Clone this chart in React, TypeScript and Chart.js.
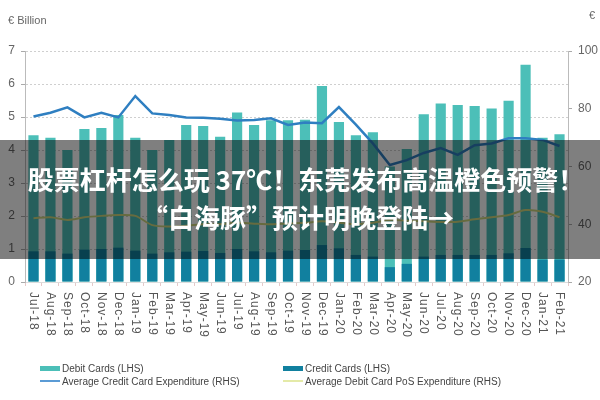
import React, { useEffect, useRef } from "react";
import { Chart, registerables } from "chart.js";

Chart.register(...registerables);

const months = [
  "Jul-18", "Aug-18", "Sep-18", "Oct-18", "Nov-18", "Dec-18",
  "Jan-19", "Feb-19", "Mar-19", "Apr-19", "May-19", "Jun-19",
  "Jul-19", "Aug-19", "Sep-19", "Oct-19", "Nov-19", "Dec-19",
  "Jan-20", "Feb-20", "Mar-20", "Apr-20", "May-20", "Jun-20",
  "Jul-20", "Aug-20", "Sep-20", "Oct-20", "Nov-20", "Dec-20",
  "Jan-21", "Feb-21",
];

// € billion (LHS)
const debitCards = [
  4.45, 4.37, 4.0, 4.64, 4.67, 5.06,
  4.37, 4.0, 4.3, 4.76, 4.73, 4.4,
  5.14, 4.76, 4.9, 4.9, 4.92, 5.94,
  4.85, 4.45, 4.54, 3.5, 4.03, 5.08,
  5.41, 5.36, 5.33, 5.26, 5.49, 6.58,
  4.37, 4.48,
];
const creditCards = [
  0.93, 0.93, 0.86, 0.98, 1.0, 1.04,
  0.95, 0.86, 0.9, 0.92, 0.94, 0.88,
  1.0, 0.93, 0.9, 0.95, 0.97, 1.12,
  1.02, 0.82, 0.77, 0.45, 0.55, 0.77,
  0.82, 0.82, 0.82, 0.82, 0.87, 1.03,
  0.68, 0.68,
];

// € (RHS)
const avgCreditExp = [
  77.3, 78.6, 80.5, 77.0, 78.6, 77.0,
  84.4, 78.4, 77.8, 77.0, 76.9, 76.5,
  75.9, 76.1, 76.7, 74.4, 75.2, 75.0,
  80.6, 74.5, 68.0, 60.5, 62.2, 64.7,
  66.4, 64.0, 67.4, 68.0, 69.8, 69.8,
  69.2, 67.1,
];
const avgDebitPosExp = [
  42.1, 42.4, 41.5, 42.4, 42.9, 43.2,
  42.9, 39.7, 39.2, 39.5, 40.0, 40.0,
  40.5, 40.2, 40.0, 40.3, 40.5, 41.0,
  40.5, 40.0, 40.5, 41.5, 41.2, 41.0,
  40.8, 40.9, 41.7, 42.4, 43.2, 44.9,
  44.3, 42.4,
];

const leftTicksMax = 7;
const rightTicks = { min: 20, max: 100, step: 20 };

const legendItems = [
  { label: "Debit Cards (LHS)", color: "#4cbfb8", kind: "box" },
  { label: "Credit Cards (LHS)", color: "#11809f", kind: "box" },
  { label: "Average Credit Card Expenditure (RHS)", color: "#5b9bd5", kind: "line" },
  { label: "Average Debit Card PoS Expenditure (RHS)", color: "#e4eaa8", kind: "line" },
];

const FONT = "'Liberation Sans', Arial, sans-serif";

const xLabelPlugin = {
  id: "xLabelsRotated",
  afterDraw(chart: any) {
    const { ctx } = chart;
    const x = chart.scales.x;
    ctx.save();
    ctx.font = "12px 'Liberation Sans', Arial, sans-serif";
    ctx.fillStyle = "#555";
    try { (ctx as any).letterSpacing = "1px"; } catch (e) {}
    ctx.textAlign = "left";
    ctx.textBaseline = "middle";
    months.forEach((m, i) => {
      const px = x.getPixelForValue(i);
      ctx.save();
      ctx.translate(px, x.top + 10);
      ctx.rotate(Math.PI / 2);
      ctx.fillText(m, 0, 0);
      ctx.restore();
    });
    ctx.restore();
  },
};

export default function App() {
  const ref = useRef<HTMLCanvasElement>(null);

  useEffect(() => {
    if (!ref.current) return;
    const chart = new Chart(ref.current, {
      type: "bar",
      data: {
        labels: months,
        datasets: [
          {
            type: "line",
            label: "Average Credit Card Expenditure (RHS)",
            data: avgCreditExp,
            yAxisID: "y1",
            borderColor: "#2f7fc1",
            borderWidth: 2.5,
            pointRadius: 0,
            tension: 0,
            order: 1,
          } as any,
          {
            type: "line",
            label: "Average Debit Card PoS Expenditure (RHS)",
            data: avgDebitPosExp,
            yAxisID: "y1",
            borderColor: "#cfd77e",
            borderWidth: 2,
            pointRadius: 0,
            tension: 0.3,
            order: 2,
          } as any,
          {
            type: "bar",
            label: "Credit Cards (LHS)",
            data: creditCards,
            yAxisID: "y",
            backgroundColor: "#11809f",
            grouped: false,
            barPercentage: 0.6,
            categoryPercentage: 1,
            order: 3,
          } as any,
          {
            type: "bar",
            label: "Debit Cards (LHS)",
            data: debitCards,
            yAxisID: "y",
            backgroundColor: "#4cbfb8",
            grouped: false,
            barPercentage: 0.6,
            categoryPercentage: 1,
            order: 4,
          } as any,
        ],
      },
      options: {
        responsive: false,
        animation: false,
        devicePixelRatio: 1,
        layout: { padding: { top: 51, left: 0, right: 0, bottom: 0 } },
        plugins: {
          legend: { display: false },
          tooltip: { enabled: false },
        },
        scales: {
          x: {
            offset: true,
            ticks: { display: false },
            grid: {
              display: true,
              drawOnChartArea: false,
              drawTicks: true,
              tickLength: 4,
              color: "#e6c9c9",
              offset: true,
            },
            border: { display: true, color: "#dddddd" },
            afterFit: (s: any) => { s.height = 118; },
          },
          y: {
            position: "left",
            min: 0,
            max: leftTicksMax,
            ticks: { stepSize: 1, color: "#666", font: { family: FONT, size: 12 }, padding: 6 },
            grid: { color: "#cfcfcf", tickLength: 4, tickColor: "#aaa" },
            border: { display: true, color: "#bbbbbb", dash: [2, 2] },
            afterFit: (s: any) => { s.width = 25; },
          },
          y1: {
            position: "right",
            min: rightTicks.min,
            max: rightTicks.max,
            ticks: { stepSize: rightTicks.step, color: "#666", font: { family: FONT, size: 12 }, padding: 6 },
            grid: { drawOnChartArea: false, tickLength: 4, tickColor: "#aaa" },
            border: { display: true, color: "#bbbbbb" },
            afterFit: (s: any) => { s.width = 32; },
          },
        },
      } as any,
      plugins: [xLabelPlugin],
    });
    return () => chart.destroy();
  }, []);

  return (
    <div style={{ position: "fixed", left: 0, top: 0, width: 600, height: 400, background: "#fff", overflow: "hidden" }}>
      <canvas ref={ref} width={600} height={400} style={{ display: "block", width: 600, height: 400 }} />
      <div style={{ position: "absolute", left: 8, top: 14, font: `11px ${FONT}`, color: "#666" }}>€ Billion</div>
      <div style={{ position: "absolute", left: 589, top: 9, font: `11px ${FONT}`, color: "#666" }}>€</div>
      {legendItems.map((it, i) => {
        const col = i % 2;
        const row = Math.floor(i / 2);
        const left = col === 0 ? 40 : 283;
        const cy = row === 0 ? 368.5 : 381;
        return (
          <div key={it.label} style={{ position: "absolute", left, top: cy - 7, height: 14, display: "flex", alignItems: "center" }}>
            <div style={{ width: 20, height: it.kind === "box" ? 5 : 2, background: it.color, marginRight: 2 }} />
            <span style={{ font: `10px ${FONT}`, color: "#444", whiteSpace: "nowrap" }}>{it.label}</span>
          </div>
        );
      })}
      <div
        style={{
          position: "absolute",
          left: 0,
          top: 140,
          width: 600,
          height: 119,
          background: "rgba(0,0,0,0.5)",
          boxSizing: "border-box",
          paddingTop: 20,
          textAlign: "center",
          color: "#fff",
          fontFamily: "'Noto Sans CJK SC', sans-serif",
          fontWeight: 700,
          fontSize: 26,
          lineHeight: "38px",
        }}
      >
        <div style={{ whiteSpace: "nowrap", position: "relative", left: 6 }}>股票杠杆怎么玩 37℃！东莞发布高温橙色预警！</div>
        <div style={{ whiteSpace: "nowrap", position: "relative", left: -2 }}>“白海豚”预计明晚登陆→</div>
      </div>
    </div>
  );
}
